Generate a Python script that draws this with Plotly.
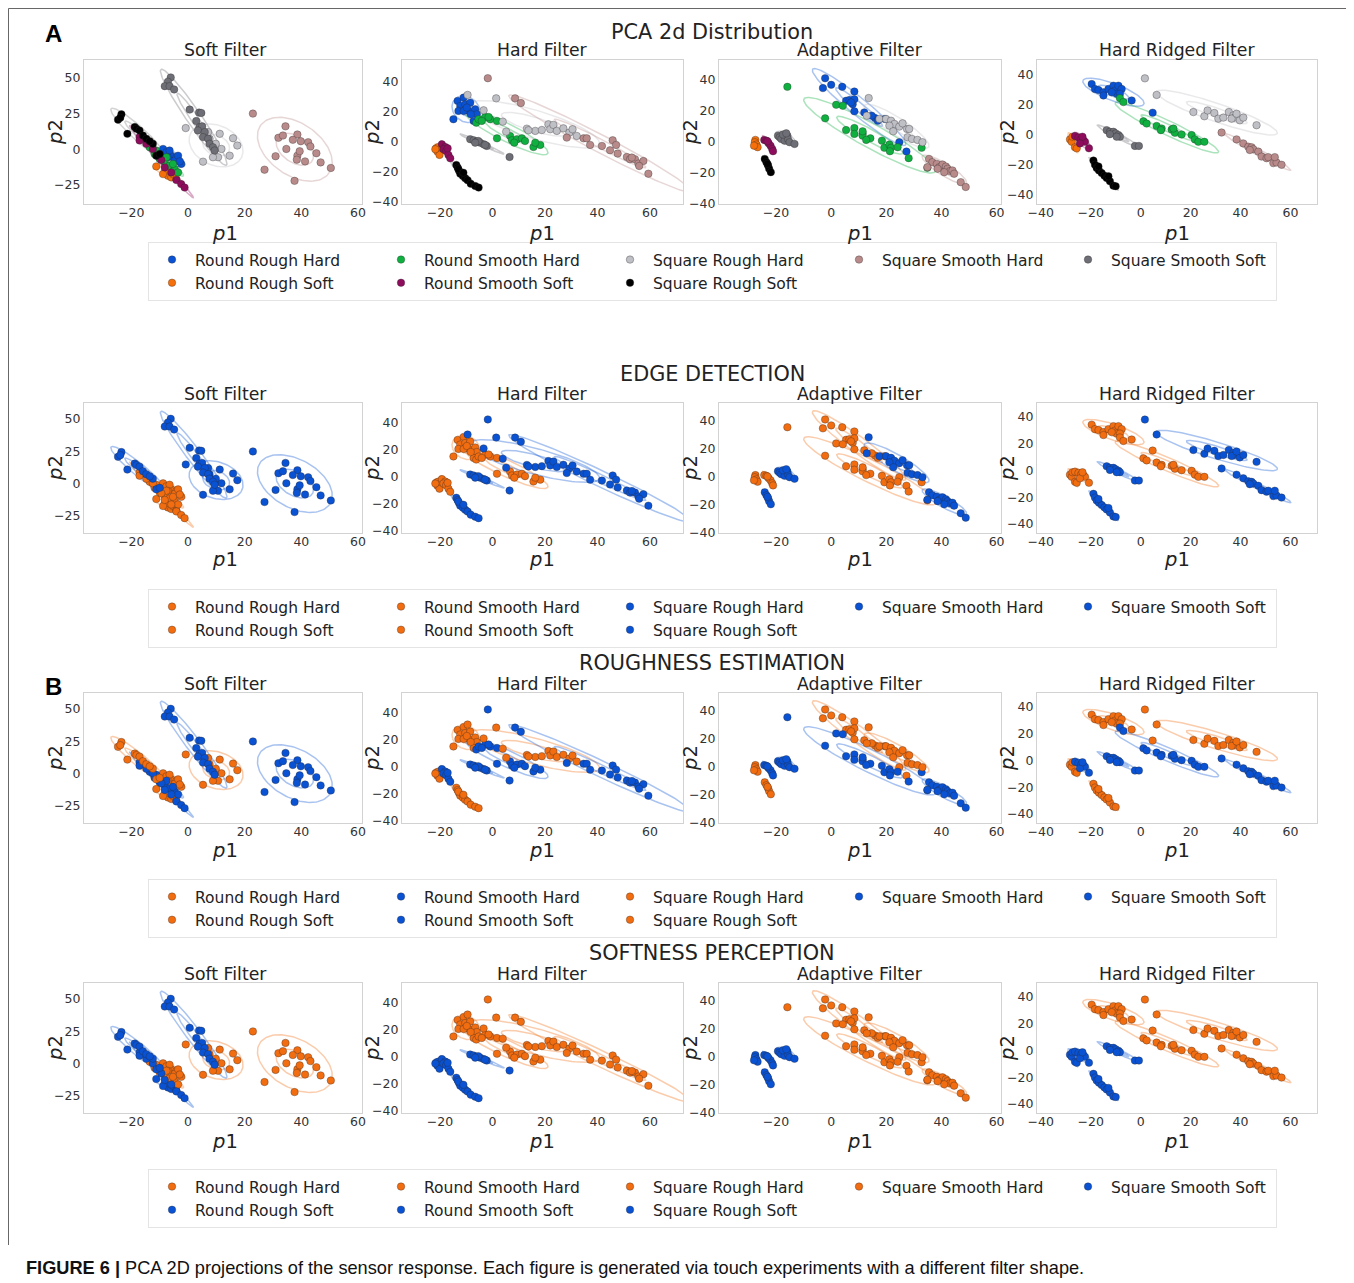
import numpy as np
import plotly.graph_objects as go

# the page adds an 8px body margin, so the figure is drawn 8px smaller and shifted
OFF = 8
W, H = 1354 - OFF, 1283 - OFF

classes = ["Round Rough Hard", "Round Rough Soft", "Round Smooth Hard", "Round Smooth Soft",
           "Square Rough Hard", "Square Rough Soft", "Square Smooth Hard", "Square Smooth Soft"]
legend_rank = {"Round Rough Hard": 1, "Round Smooth Hard": 2, "Square Rough Hard": 3,
               "Square Smooth Hard": 4, "Square Smooth Soft": 5, "Round Rough Soft": 6,
               "Round Smooth Soft": 7, "Square Rough Soft": 8}
filters = ["Soft Filter", "Hard Filter", "Adaptive Filter", "Hard Ridged Filter"]
row_titles = ["PCA 2d Distribution", "EDGE DETECTION", "ROUGHNESS ESTIMATION", "SOFTNESS PERCEPTION"]

class_colors = {"Round Rough Hard": "#0a52d4", "Round Rough Soft": "#f56f0a",
                "Round Smooth Hard": "#0fb040", "Round Smooth Soft": "#8e0c5c",
                "Square Rough Hard": "#bfbfc6", "Square Rough Soft": "#000000",
                "Square Smooth Hard": "#b98a8a", "Square Smooth Soft": "#6e6e76"}
ORANGE, BLUE = "#f26c10", "#0a52d4"

# ---- PCA points (p1, p2) ----
soft_filter = {
    "Round Rough Hard": ([-8.8, -7.6, -5.9, -4.1, -2.4, -4.7, -6.5, -3.5, -2.9, -7.1],
                         [0.2, -2.1, -4.5, -5.6, -10.3, -8.0, -0.9, -4.5, -8.5, -5.6]),
    "Round Rough Soft": ([-11.2, -8.2, -7.1, -5.9, -7.6, -5.3, -8.8, -4.1],
                         [-12.0, -16.2, -18.5, -19.7, -15.0, -17.4, -17.4, -20.9]),
    "Round Smooth Hard": ([-13.5, -11.8, -10.0, -8.2, -6.5, -4.7, -5.3, -11.2, -3.5, -7.6],
                          [1.4, -3.3, -6.8, -9.2, -11.5, -13.8, -10.3, -0.9, -16.2, -5.6]),
    "Round Smooth Soft": ([-17.1, -14.7, -12.4, -10.6, -9.4, -8.2, -5.9, -4.1, -2.4, -1.2, -17.1],
                          [8.5, 3.8, 0.2, -4.5, -7.5, -12.7, -16.2, -21.6, -24.4, -26.8, 6.1]),
    "Square Rough Hard": ([-0.8, 5.3, 11.2, 15.9, 17.4, 11.8, 14.7, 10.6, 8.8, 7.6, 9.4, 7.1, 9.8],
                          [14.8, -8.7, 10.8, 7.7, 2.6, 0.2, -4.5, -5.6, -5.6, 7.3, 0.2, 12.0, 3.8]),
    "Square Rough Soft": ([-23.5, -24.7, -23.9, -18.8, -18.2, -17.1, -21.4, -15.9, -14.7, -12.4, -11.2, -10.0, -13.5],
                          [24.4, 20.7, 22.0, 15.5, 14.3, 13.1, 10.8, 9.6, 7.3, 3.8, -4.5, -3.3, 5.6]),
    "Square Smooth Hard": ([22.9, 34.4, 31.9, 33.5, 38.6, 37.0, 39.8, 42.4, 34.7, 43.2, 45.3, 30.9, 38.6, 38.4,
                            41.3, 46.8, 27.0, 50.4, 37.6, 39.4],
                           [24.9, 16.0, 8.0, 9.6, 10.3, 6.6, 5.6, 4.9, 0.2, 1.9, -2.8, -4.9, -4.5, -7.3,
                            -8.5, -9.2, -14.3, -13.1, -22.1, -1.4]),
    "Square Smooth Soft": ([-6.1, -7.1, -8.2, -6.5, -4.9, 0.6, 3.9, 4.7, 2.9, 4.1, 5.0, 3.5, 5.9, 5.3, 7.1, 7.6, 8.8, 9.4],
                           [50.2, 47.2, 44.1, 44.1, 41.8, 27.7, 25.6, 25.4, 19.7, 15.5, 16.0, 13.1, 12.0, 8.5, 7.3, 3.8, 1.4, -0.9]),
}

hard_filter = {
    "Round Rough Hard": ([-13.3, -11.0, -12.3, -10.4, -8.5, -13.0, -14.9, -9.1, -6.6, -6.0, -7.2, -11.0, -9.8, -8.3],
                         [27.3, 29.5, 23.9, 25.0, 26.1, 20.6, 15.0, 20.6, 21.7, 18.3, 13.9, 20.6, 22.8, 18.3]),
    "Round Rough Soft": ([-21.5, -21.0, -20.2, -20.6, -21.8],
                         [-4.5, -6.7, -8.9, -3.6, -5.1]),
    "Round Smooth Hard": ([-6.2, -5.3, -2.8, -0.9, -1.5, 1.7, 1.7, 6.7, 7.4, 9.3, 11.2, 12.4, 8.3, 15.6, 18.2, 16.3, -4.1],
                          [12.7, 15.0, 16.5, 15.0, 16.5, 13.9, 2.2, 3.8, 0.9, 1.6, 2.2, 0.4, -0.7, -3.6, -2.2, -0.7, 13.9]),
    "Round Smooth Soft": ([-19.3, -18.0, -18.7, -17.7, -16.8, -16.1, -17.1],
                          [-1.8, -3.6, -5.1, -6.3, -8.9, -11.2, -4.5]),
    "Square Rough Hard": ([-9.5, 1.4, -3.4, 3.9, 5.2, 13.1, 16.3, 18.8, 21.3, 22.0, 23.2, 24.5, 27.0, 29.3, 30.5, 32.1, 13.7],
                          [31.3, 29.0, 21.0, 13.4, 6.7, 8.7, 7.2, 7.8, 11.6, 8.3, 11.2, 7.2, 8.9, 6.0, 8.3, 3.8, 7.6]),
    "Square Rough Soft": ([-13.8, -13.3, -12.7, -12.3, -11.3, -10.4, -9.5, -8.3, -6.6, -5.3, -13.0, -11.1],
                          [-15.6, -17.4, -19.7, -21.5, -23.0, -24.6, -25.9, -28.2, -29.7, -30.8, -18.5, -20.8]),
    "Square Smooth Hard": ([-1.8, 8.6, 10.8, 28.3, 34.7, 35.9, 37.2, 41.7, 44.8, 45.8, 47.1, 47.7, 51.2, 52.4, 54.3,
                            55.6, 57.5, 55.9, 59.4, 53.1],
                           [42.5, 29.0, 25.9, 2.7, 2.2, 2.2, -2.2, -2.9, -5.8, 0.9, -2.2, -8.0, -10.3, -11.8, -11.8,
                            -14.7, -13.0, -16.3, -21.5, -10.7]),
    "Square Smooth Soft": ([-8.5, -7.2, -6.0, -4.7, -3.4, -2.2, -5.4, -6.6, -2.8, 6.5],
                           [1.6, 0.9, 0.0, -0.7, -1.8, -2.9, 0.4, -0.7, -2.2, -10.3]),
}

adaptive_filter = {
    "Round Rough Hard": ([-2.2, -3.0, 0.0, 4.0, 8.4, 5.4, 6.6, 7.8, 8.4, 7.2, 8.4, 12.0, 15.9, 16.9, 24.7, 27.3, 19.5, 14.7],
                         [40.6, 34.3, 36.4, 35.1, 32.1, 26.2, 26.6, 24.0, 27.2, 25.1, 19.4, 18.7, 15.1, 13.4, -0.4, -6.4, 14.5, 16.6]),
    "Round Rough Soft": ([-27.5, -27.7, -27.1, -26.7, -28.0],
                         [1.1, -0.4, -1.9, -3.6, -2.6]),
    "Round Smooth Hard": ([-15.9, -2.2, 1.8, 4.2, 5.4, 8.4, 8.4, 11.4, 11.4, 14.2, 12.7, 18.4, 19.3, 21.1, 21.7, 24.1,
                           21.3, 28.1, 32.8, 34.9, 11.4],
                          [35.1, 14.9, 23.6, 23.0, 7.4, 8.7, 4.9, 5.3, 3.8, 2.1, 1.1, 0.6, -4.0, -1.9, -4.0, -3.6,
                           -6.2, -10.6, -4.0, -16.8, 6.6]),
    "Round Smooth Soft": ([-24.3, -23.5, -22.7, -22.0, -21.4, -21.1, -23.1],
                          [1.1, 0.6, -1.1, -2.6, -4.7, -6.2, 0.2]),
    "Square Rough Hard": ([13.6, 12.9, 17.5, 19.9, 21.7, 22.9, 24.7, 21.1, 27.5, 28.3, 22.5, 27.7, 29.3, 31.3, 33.1, 25.9],
                          [27.9, 16.6, 14.5, 14.5, 13.4, 11.3, 9.6, 10.2, 8.1, 8.1, 6.6, 2.8, 1.7, 1.1, -0.4, 11.7]),
    "Square Rough Soft": ([-24.1, -23.5, -22.9, -22.5, -21.9, -23.1],
                          [-11.1, -13.2, -15.3, -17.4, -19.6, -14.3]),
    "Square Smooth Hard": ([35.5, 36.7, 38.3, 39.2, 40.4, 41.6, 42.2, 43.1, 44.0, 44.6, 41.0, 47.0, 48.8, 34.9, 38.6],
                           [-11.1, -13.2, -14.3, -16.4, -14.7, -16.0, -17.4, -18.9, -18.5, -20.6, -19.6, -26.0, -29.1, -16.4, -17.4]),
    "Square Smooth Soft": ([-19.3, -18.7, -18.1, -16.9, -15.9, -15.7, -15.1, -13.3, -17.5, -16.3],
                           [3.8, 2.8, 1.7, 0.6, 3.8, 1.7, -0.4, -1.5, 4.5, 5.3]),
}

hard_ridged_filter = {
    "Round Rough Hard": ([-19.6, -18.3, -16.9, -14.9, -14.9, -12.9, -10.9, -10.3, -8.9, -7.6, -9.6, -11.6, -3.6, 4.8, -8.3],
                         [33.8, 30.5, 29.8, 28.3, 26.1, 30.5, 32.7, 29.4, 32.7, 30.5, 27.2, 28.3, 22.8, 14.6, 27.2]),
    "Round Rough Soft": ([-28.3, -27.6, -26.3, -25.6, -27.3],
                         [-3.3, -4.9, -8.6, -9.3, -1.5]),
    "Round Smooth Hard": ([-8.3, -6.9, 1.1, 2.4, 6.4, 8.4, 12.4, 13.7, 16.4, 20.4, 21.7, 23.1, 25.5, 13.1, 8.1],
                          [24.3, 21.7, 8.8, 7.3, 5.7, 4.0, 3.3, 1.1, 0.0, -0.4, -3.3, -4.9, -4.9, 4.0, 2.9]),
    "Round Smooth Soft": ([-26.3, -24.9, -23.9, -22.9, -22.3, -20.7, -24.3, -23.3],
                          [-1.1, -2.0, -3.3, -3.8, -4.9, -9.3, -6.0, -1.5]),
    "Square Rough Hard": ([1.7, 6.4, 21.1, 25.5, 26.8, 29.5, 31.1, 33.1, 35.3, 37.1, 37.7, 39.7, 41.1, 36.4, 46.4, 38.4],
                          [37.6, 26.5, 15.0, 12.2, 16.1, 14.4, 10.6, 11.3, 15.0, 12.8, 11.3, 9.5, 11.3, 10.6, 6.2, 13.9]),
    "Square Rough Soft": ([-18.9, -18.3, -17.6, -16.7, -15.6, -14.5, -13.6, -12.3, -10.9, -10.0, -16.9, -12.9],
                          [-17.5, -20.3, -22.5, -24.1, -25.9, -27.6, -29.2, -31.4, -34.3, -34.7, -21.4, -28.0]),
    "Square Smooth Hard": ([32.4, 38.4, 41.1, 43.1, 44.4, 45.1, 47.1, 48.4, 50.4, 51.1, 53.1, 54.4, 53.7, 56.4, 43.7],
                           [1.3, -3.3, -6.0, -8.2, -8.6, -9.9, -11.5, -14.8, -15.9, -15.2, -19.2, -18.8, -15.2, -20.3, -10.4]),
    "Square Smooth Soft": ([-13.6, -12.3, -10.9, -10.0, -8.9, -8.3, -12.3, -2.3, -0.7, -9.6],
                           [2.9, 1.8, 1.8, 0.7, -0.4, -1.5, 0.2, -7.7, -7.7, -1.5]),
}

filter_data = [soft_filter, hard_filter, adaptive_filter, hard_ridged_filter]

x_ranges = [[-36.7, 61.4], [-34.5, 72.6], [-40.7, 61.6], [-41.5, 70.6]]
y_ranges = [[-38.3, 62.4], [-41.8, 54.7], [-40.0, 52.3], [-46.6, 49.9]]
x_ticks = [[-20, 0, 20, 40, 60], [-20, 0, 20, 40, 60], [-20, 0, 20, 40, 60], [-40, -20, 0, 20, 40, 60]]
y_ticks = [[-25, 0, 25, 50], [-40, -20, 0, 20, 40], [-40, -20, 0, 20, 40], [-40, -20, 0, 20, 40]]


def row_color(row, name):
    if row == 0:
        return class_colors[name]
    if row == 1:
        return ORANGE if name.startswith("Round") else BLUE
    if row == 2:
        return ORANGE if "Rough" in name else BLUE
    return ORANGE if name.endswith("Hard") else BLUE


def rgba(hexc, a):
    h = hexc.lstrip("#")
    r, g, b = int(h[0:2], 16), int(h[2:4], 16), int(h[4:6], 16)
    return f"rgba({r},{g},{b},{a})"


def ellipse_xy(xs, ys, stds=(1, 2)):
    pts = np.vstack([xs, ys])
    mu = pts.mean(axis=1)
    cov = np.cov(pts)
    vals, vecs = np.linalg.eigh(cov)
    vals = np.clip(vals, 1e-6, None)
    t = np.linspace(0, 2 * np.pi, 120)
    ex, ey = [], []
    for n in stds:
        circ = np.vstack([np.cos(t), np.sin(t)])
        e = vecs @ (np.sqrt(vals)[:, None] * n * circ) + mu[:, None]
        ex += list(e[0]) + [None]
        ey += list(e[1]) + [None]
    return ex, ey


def fx(px):
    return (px - OFF) / W


def fy(py):
    return 1 - (py - OFF) / H


# pixel layout (reference page pixels)
col_px = [(84, 362), (402, 683), (719, 1001), (1037, 1317)]
row_px = [(60, 204), (403, 533), (693, 823), (983, 1113)]
col_centers = [225, 542, 860, 1177]
title_y = [32, 374, 663, 953]
sub_y = [50, 394, 684, 974]
p1_y = [233, 560, 850, 1141]
legend_top = [242, 589, 879, 1169]
p2_x = [55, 372, 690, 1007]

FONT = "DejaVu Sans"
fig = go.Figure()
layout = dict(width=W, height=H, paper_bgcolor="white", plot_bgcolor="white",
              margin=dict(l=0, r=0, t=0, b=0, autoexpand=False),
              font=dict(family=FONT, color="#222"))
annotations = []

for r in range(4):
    legname = "legend" if r == 0 else f"legend{r + 1}"
    for c in range(4):
        k = r * 4 + c + 1
        xa = "x" if k == 1 else f"x{k}"
        ya = "y" if k == 1 else f"y{k}"
        x0, x1 = col_px[c]
        y0, y1 = row_px[r]
        axis_common = dict(showgrid=False, zeroline=False, showline=True, mirror=True,
                           linecolor="#d2d2d2", linewidth=1, ticks="",
                           tickfont=dict(family=FONT, size=12.5, color="#333"))
        layout["xaxis" if k == 1 else f"xaxis{k}"] = dict(
            domain=[fx(x0), fx(x1)], anchor=ya, range=x_ranges[c], tickvals=x_ticks[c],
            ticklabelstandoff=-3, **axis_common)
        layout["yaxis" if k == 1 else f"yaxis{k}"] = dict(
            domain=[fy(y1), fy(y0)], anchor=xa, range=y_ranges[c], tickvals=y_ticks[c], **axis_common)
        data = filter_data[c]
        for name in classes:
            xs, ys = data[name]
            ex, ey = ellipse_xy(xs, ys)
            col = row_color(r, name)
            ecol = rgba("#808080", 0.35) if col == "#000000" else rgba(col, 0.35)
            fig.add_trace(go.Scatter(x=ex, y=ey, mode="lines", xaxis=xa, yaxis=ya,
                                     line=dict(color=ecol, width=1.5), showlegend=False,
                                     hoverinfo="skip"))
        for name in classes:
            xs, ys = data[name]
            col = row_color(r, name)
            extra = {}
            if name == "Square Smooth Soft":
                extra["legendwidth"] = 160
            fig.add_trace(go.Scatter(
                x=xs, y=ys, mode="markers", name=name, xaxis=xa, yaxis=ya,
                marker=dict(color=col, size=7.5, line=dict(color="rgba(40,40,40,0.55)", width=0.6)),
                showlegend=(c == 0), legend=legname, legendrank=legend_rank[name], **extra))
        annotations.append(dict(text=filters[c], x=fx(col_centers[c]), y=fy(sub_y[r]),
                                xref="paper", yref="paper", showarrow=False,
                                font=dict(family=FONT, size=17.3, color="#222"),
                                xanchor="center", yanchor="middle"))
        annotations.append(dict(text="<i>p</i>1", x=fx(col_centers[c]), y=fy(p1_y[r]),
                                xref="paper", yref="paper", showarrow=False,
                                font=dict(family=FONT, size=19.5, color="#222"),
                                xanchor="center", yanchor="middle"))
        annotations.append(dict(text="<i>p</i>2", x=fx(p2_x[c]), y=fy((y0 + y1) / 2),
                                xref="paper", yref="paper", showarrow=False, textangle=-90,
                                font=dict(family=FONT, size=19.5, color="#222"),
                                xanchor="center", yanchor="middle"))
    annotations.append(dict(text=row_titles[r], x=fx(712), y=fy(title_y[r]),
                            xref="paper", yref="paper", showarrow=False,
                            font=dict(family=FONT, size=20.8, color="#222"),
                            xanchor="center", yanchor="middle"))
    layout[legname] = dict(x=fx(148), y=fy(legend_top[r]), xanchor="left", yanchor="top",
                           orientation="h", entrywidth=178, entrywidthmode="pixels",
                           itemwidth=36, bgcolor="white", bordercolor="#e4e4e4", borderwidth=1,
                           font=dict(family=FONT, size=15.5, color="#222"), traceorder="normal")

annotations.append(dict(text="<b>A</b>", x=fx(53), y=fy(34), xref="paper", yref="paper",
                        showarrow=False, font=dict(family="Liberation Sans", size=24, color="#000"),
                        xanchor="center", yanchor="middle"))
annotations.append(dict(text="<b>B</b>", x=fx(53), y=fy(686), xref="paper", yref="paper",
                        showarrow=False, font=dict(family="Liberation Sans", size=24, color="#000"),
                        xanchor="center", yanchor="middle"))
annotations.append(dict(text="<b>FIGURE 6 |</b> PCA 2D projections of the sensor response. Each figure is "
                             "generated via touch experiments with a different filter shape.",
                        x=fx(24), y=fy(1268), xref="paper", yref="paper", showarrow=False,
                        font=dict(family="Liberation Sans", size=18.2, color="#111"),
                        xanchor="left", yanchor="middle"))
layout["annotations"] = annotations


def P(px, py):
    return f"{fx(px):.5f},{fy(py):.5f}"


layout["shapes"] = [dict(type="path", xref="paper", yref="paper",
                         path=f"M {P(8.5, 1245)} L {P(8.5, 8.5)} L {P(1353, 8.5)} L {P(1353, 1283)}",
                         line=dict(color="#666", width=1))]
fig.update_layout(**layout)
fig.write_html("out.html")
